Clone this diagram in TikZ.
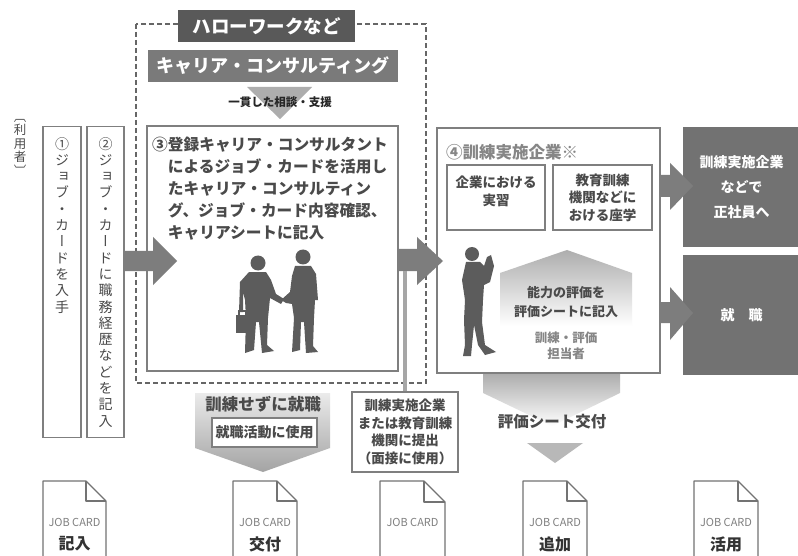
\documentclass[tikz,border=0pt]{standalone}
\usepackage{fontspec}
\setmainfont{Noto Sans CJK JP}
\newfontfamily\tatefont[RawFeature=+vert]{Noto Sans CJK JP}
\usetikzlibrary{positioning}

\definecolor{linegray}{HTML}{7F7F7F}
\definecolor{darkfill}{HTML}{595959}
\definecolor{midfill}{HTML}{7A7A7A}
\definecolor{sidefill}{HTML}{727272}
\definecolor{arrowfill}{HTML}{7D7D7D}
\definecolor{textgray}{HTML}{4A4A4A}
\definecolor{softtext}{HTML}{868686}
\definecolor{figfill}{HTML}{5C5C5C}

\tikzset{
  frame/.style={draw=linegray, line width=1.4pt, inner sep=0pt},
  thinframe/.style={draw=linegray, line width=1.2pt, inner sep=0pt},
  headbox/.style={fill=#1, text=white, inner sep=0pt},
  dashframe/.style={draw=black!60, line width=1.2pt, dash pattern=on 5pt off 3pt},
  tate/.style={font=\tatefont\fontsize{14}{16.3}\selectfont, text=textgray, align=center, inner sep=0pt},
  cardline/.style={draw=black!55, line width=1.2pt, line join=round},
  cardtag/.style={font=\fontsize{11}{12}\selectfont, text=black!50},
  cardname/.style={font=\bfseries\fontsize{16}{18}\selectfont, text=black!80},
}

\begin{document}
\begin{tikzpicture}[x=1pt, y=-1pt]
  \useasboundingbox[fill=white] (0,0) rectangle (798,556);

  % consultation area
  \draw[dashframe] (136,24) rectangle (426,383);
  \node[headbox=darkfill, minimum width=177pt, minimum height=32pt,
        font=\bfseries\fontsize{18.5}{20}\selectfont] (hw) at (266.5,26) {ハローワークなど};
  \node[headbox=midfill, minimum width=250pt, minimum height=32pt,
        font=\bfseries\fontsize{18}{20}\selectfont] (cc) at (273,66) {キャリア・コンサルティング};
  \fill[black!32] (247,87) -- (312,87) -- (280,119) -- cycle;
  \node[font=\bfseries\fontsize{11.5}{12}\selectfont, text=black!85] (support) at (280,102) {一貫した相談・支援};

  % user side
  \node[tate, font=\tatefont\fontsize{12.5}{13.5}\selectfont, anchor=north] (user) at (20,119) {〔\\利\\用\\者\\〕};
  \node[thinframe, minimum width=38pt, minimum height=311pt, anchor=north] (u1) at (62,126) {};
  \node[tate, below=11pt of u1.north] (u1text) {①\\ジ\\ョ\\ブ\\・\\カ\\ー\\ド\\を\\入\\手};
  \node[thinframe, minimum width=37pt, minimum height=311pt, anchor=north] (u2) at (105.5,126) {};
  \node[tate, below=11pt of u2.north] (u2text) {②\\ジ\\ョ\\ブ\\・\\カ\\ー\\ド\\に\\職\\務\\経\\歴\\な\\ど\\を\\記\\入};

  % step 3
  \node[frame, minimum width=251pt, minimum height=245pt] (s3) at (272.5,248.5) {};
  \node[anchor=north west, align=left, inner sep=0pt, text=textgray,
        font=\bfseries\fontsize{15.7}{22}\selectfont] (s3text) at (152,137)
    {③登録キャリア・コンサルタント\\
     \phantom{③}によるジョブ・カードを活用し\\
     \phantom{③}たキャリア・コンサルティン\\
     \phantom{③}グ、ジョブ・カード内容確認、\\
     \phantom{③}キャリアシートに記入};

  % handshake
  \fill[figfill] (258,263) circle[radius=7.5];
  \fill[figfill] (249,272) -- (266,272) -- (271,280) -- (276,294) -- (284,299) -- (281,304)
    -- (270,298) -- (268,318) -- (267,345) -- (274,351) -- (262,353) -- (259,322) -- (256,322)
    -- (254,350) -- (245,353) -- (246,318) -- (245,300) -- (243,292) -- (243,312) -- (239,312)
    -- (240,282) -- cycle;
  \fill[figfill] (236,315) rectangle (249,333);
  \draw[figfill, line width=1.2pt] (239,315) -- (239,311) -- (246,311) -- (246,315);
  \fill[figfill] (303,257) circle[radius=7.5];
  \fill[figfill] (295,266) -- (311,266) -- (316,274) -- (318,300) -- (315,300) -- (314,318)
    -- (313,346) -- (318,352) -- (306,353) -- (304,322) -- (301,322) -- (300,350) -- (292,352)
    -- (294,318) -- (292,304) -- (286,303) -- (281,300) -- (290,292) -- (292,276) -- cycle;

  % step 4
  \node[frame, minimum width=223pt, minimum height=245pt] (s4) at (548.5,250.5) {};
  \node[anchor=west, inner sep=0pt, text=softtext,
        font=\bfseries\fontsize{16.5}{18}\selectfont] (s4title) at (446,152) {④訓練実施企業※};
  \node[thinframe, minimum width=98pt, minimum height=65pt, align=center, text=textgray,
        font=\bfseries\fontsize{13.5}{18}\selectfont] (onjob) at (496,197.5) {企業における\\実習\\[-4pt]\mbox{}};
  \node[thinframe, minimum width=99pt, minimum height=65pt, align=center, text=textgray,
        font=\bfseries\fontsize{13.5}{17.5}\selectfont] (offjob) at (602.5,197.5) {教育訓練\\機関などに\\おける座学};
  \shade[top color=black!32, bottom color=white] (500,326) -- (500,273) -- (567,250) -- (632,273)
    -- (632,326) -- cycle;
  \node[align=center, text=textgray, font=\bfseries\fontsize{13}{19}\selectfont] (evalnote)
    at (566,302.5) {能力の評価を\\評価シートに記入};
  \node[align=center, text=softtext, font=\bfseries\fontsize{12.5}{15.5}\selectfont] (trainer)
    at (566,346) {訓練・評価\\担当者};

  % standing trainer
  \fill[figfill] (472,254) circle[radius=7];
  \fill[figfill] (466,262) -- (480,262) -- (484,266) -- (487,257) -- (491,255) -- (494,266)
    -- (490,282) -- (484,285) -- (483,300) -- (482,322) -- (485,345) -- (496,352) -- (485,355)
    -- (478,345) -- (474,325) -- (472,345) -- (471,356) -- (463,356) -- (465,345) -- (464,320)
    -- (465,300) -- (462,280) -- cycle;

  % outcomes
  \node[headbox=sidefill, minimum width=117pt, minimum height=120pt, align=center,
        font=\bfseries\fontsize{14}{25}\selectfont] (regular) at (741.5,187) {訓練実施企業\\などで\\正社員へ};
  \node[headbox=sidefill, minimum width=117pt, minimum height=120pt,
        font=\bfseries\fontsize{14}{16}\selectfont] (hired) at (741.5,315) {就　職};

  % block arrows
  \fill[arrowfill] (123,251) -- (153,251) -- (153,237) -- (177,261) -- (153,285) -- (153,271)
    -- (123,271) -- cycle;
  \fill[arrowfill] (397,249) -- (417,249) -- (417,237) -- (443,261) -- (417,285) -- (417,271)
    -- (397,271) -- cycle;
  \fill[arrowfill] (660,175) -- (670,175) -- (670,163) -- (693,186) -- (670,210) -- (670,197)
    -- (660,197) -- cycle;
  \fill[arrowfill] (660,302) -- (670,302) -- (670,287) -- (693,313) -- (670,340) -- (670,323)
    -- (660,323) -- cycle;

  % hand-in note
  \node[thinframe, minimum width=106pt, minimum height=80pt, align=center, text=textgray,
        font=\bfseries\fontsize{13.5}{17.5}\selectfont] (submit) at (405,432)
    {訓練実施企業\\または教育訓練\\機関に提出\\（面接に使用）};
  \coordinate (stemtop) at (405,271);
  \draw[black!35, line width=4pt] (stemtop) -- (submit.north);

  % job hunting without training
  \shade[top color=black!8, bottom color=black!36] (195,393) -- (330,393) -- (330,448) -- (263,472)
    -- (195,448) -- cycle;
  \node[text=textgray, font=\bfseries\fontsize{16.5}{18}\selectfont] (notrain) at (263,404) {訓練せずに就職};
  \node[thinframe, fill=white, minimum width=105pt, minimum height=29pt, text=textgray,
        font=\bfseries\fontsize{14}{16}\selectfont] (jobhunt) at (264.5,432.5) {就職活動に使用};

  % evaluation sheet
  \shade[top color=black!32, bottom color=white] (483,374) -- (620,374) -- (620,393) -- (552,426)
    -- (483,393) -- cycle;
  \node[text=textgray, font=\bfseries\fontsize{15.5}{17}\selectfont] (evalsheet) at (552,422) {評価シート交付};
  \fill[black!28] (527,443) -- (583,443) -- (555,463) -- cycle;

  % job cards
  \draw[cardline] (43,560) -- (43,481) -- (86,481) -- (106,501) -- (106,560);
  \draw[cardline] (86,481) -- (86,501) -- (106,501);
  \node[cardtag] (tag1) at (74.5,522) {JOB CARD};
  \node[cardname] (card1) at (74.5,544) {記入};
  \draw[cardline] (233,560) -- (233,481) -- (277,481) -- (297,501) -- (297,560);
  \draw[cardline] (277,481) -- (277,501) -- (297,501);
  \node[cardtag] (tag2) at (265,522) {JOB CARD};
  \node[cardname] (card2) at (265,544) {交付};
  \draw[cardline] (380,560) -- (380,481) -- (424,481) -- (445,502) -- (445,560);
  \draw[cardline] (424,481) -- (424,502) -- (445,502);
  \node[cardtag] (tag3) at (412.5,522) {JOB CARD};
  \draw[cardline] (523,560) -- (523,481) -- (567,481) -- (587,501) -- (587,560);
  \draw[cardline] (567,481) -- (567,501) -- (587,501);
  \node[cardtag] (tag4) at (555,522) {JOB CARD};
  \node[cardname] (card4) at (555,544) {追加};
  \draw[cardline] (694,560) -- (694,481) -- (738,481) -- (758,501) -- (758,560);
  \draw[cardline] (738,481) -- (738,501) -- (758,501);
  \node[cardtag] (tag5) at (726,522) {JOB CARD};
  \node[cardname] (card5) at (726,544) {活用};
\end{tikzpicture}
\end{document}
